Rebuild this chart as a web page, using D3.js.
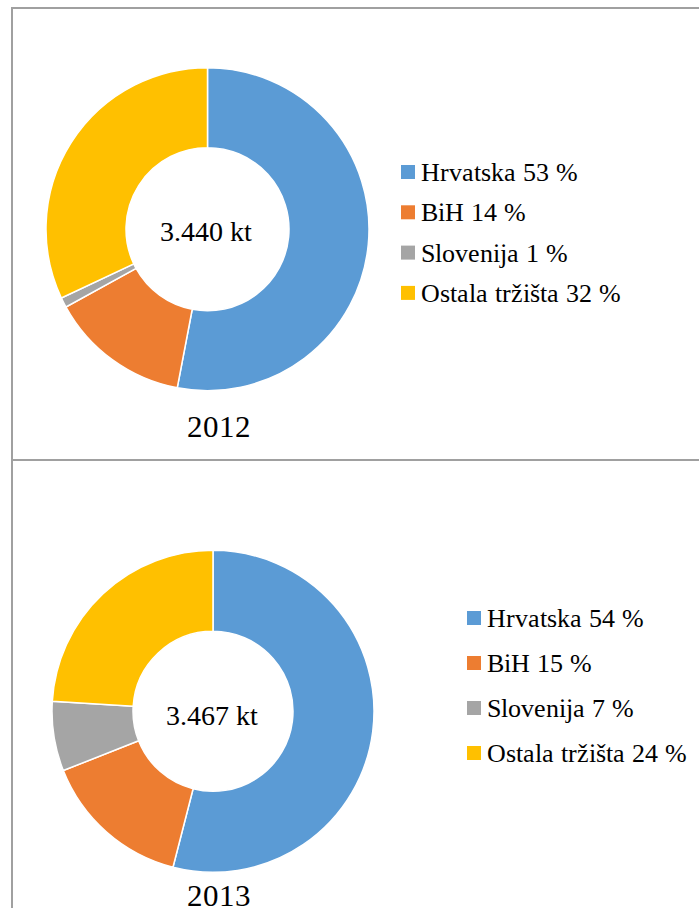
<!DOCTYPE html>
<html>
<head>
<meta charset="utf-8">
<script src="https://cdn.jsdelivr.net/npm/d3@7"></script>
<style>
  @font-face { font-family: "ChartSerif"; src: local("Liberation Serif"), local("LiberationSerif"), local("Liberation Serif Regular"), local("LiberationSerif-Regular"); }
  svg text { font-family: "ChartSerif", "Liberation Serif", "Times New Roman", serif !important; }
</style>
</head>
<body style="margin:0">
<svg id="chart" width="699" height="908"></svg>
<script>
// ---- data ----
const categories = ["Hrvatska", "BiH", "Slovenija", "Ostala tržišta"];
const colors = ["#5B9BD5", "#ED7D31", "#A5A5A5", "#FFC000"];
const years = ["2012", "2013"];
const totals = ["3.440 kt", "3.467 kt"];
const values2012 = [53, 14, 1, 32];
const values2013 = [54, 15, 7, 24];

const svg = d3.select("#chart");

// panel borders
const borderColor = "#a0a0a0";
svg.append("line").attr("x1", 12).attr("x2", 12).attr("y1", 7).attr("y2", 908)
  .attr("stroke", borderColor).attr("stroke-width", 2);
svg.append("line").attr("x1", 11).attr("x2", 699).attr("y1", 8).attr("y2", 8)
  .attr("stroke", borderColor).attr("stroke-width", 2);
svg.append("line").attr("x1", 11).attr("x2", 699).attr("y1", 460).attr("y2", 460)
  .attr("stroke", borderColor).attr("stroke-width", 2);

const panelDefs = [
  { values: values2012, year: years[0], total: totals[0], cx: 207.5, cy: 229.2, r: 161.5, ri: 81.5,
    totalY: 241, yearX: 219, yearY: 437, legX: 401, legY: 181, legStep: 40.3 },
  { values: values2013, year: years[1], total: totals[1], cx: 213, cy: 711.3, r: 161, ri: 80,
    totalY: 725, yearX: 219, yearY: 906, legX: 467, legY: 627, legStep: 45 }
];

const pieGen = d3.pie().sort(null).value(d => d);

panelDefs.forEach(p => {
  const g = svg.append("g").attr("transform", `translate(${p.cx},${p.cy})`);
  const arc = d3.arc().innerRadius(p.ri).outerRadius(p.r);
  g.selectAll("path").data(pieGen(p.values)).enter().append("path")
    .attr("d", arc)
    .attr("fill", (d, i) => colors[i])
    .attr("stroke", "#fff")
    .attr("stroke-width", 1.5);
});

panelDefs.forEach(p => {
  svg.append("text").attr("x", p.cx - 1.5).attr("y", p.totalY)
    .attr("text-anchor", "middle")
    .attr("font-size", 28).text(p.total);

  svg.append("text").attr("x", p.yearX).attr("y", p.yearY)
    .attr("text-anchor", "middle")
    .attr("font-size", 31).text(p.year);

  categories.forEach((c, i) => {
    const y = p.legY + i * p.legStep;
    svg.append("rect").attr("x", p.legX).attr("y", y - 16)
      .attr("width", 14).attr("height", 14).attr("fill", colors[i]);
    svg.append("text").attr("x", p.legX + 19.5).attr("y", y)
      .attr("font-size", 26).text(`${c} ${p.values[i]} %`);
  });
});
</script>
</body>
</html>
